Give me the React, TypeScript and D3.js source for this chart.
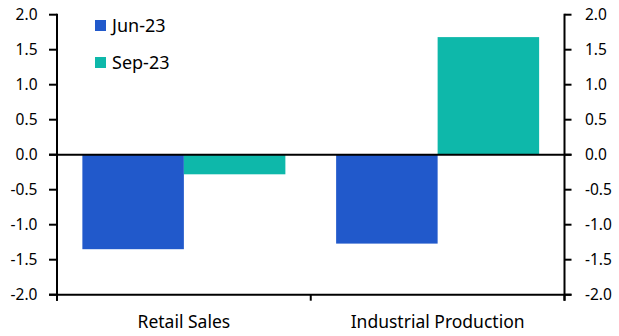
import React from "react";
import * as d3 from "d3";

const categories = ["Retail Sales", "Industrial Production"];
const seriesNames = ["Jun-23", "Sep-23"];
const jun23 = [-1.35, -1.27];
const sep23 = [-0.28, 1.68];
const yTicks = [2.0, 1.5, 1.0, 0.5, 0.0, -0.5, -1.0, -1.5, -2.0];
const colors = ["#2159cb", "#0eb8aa"];

const W = 619;
const H = 336;
const left = 57;
const right = 564.5;
const top = 14.7;
const bottom = 294.7;
const font = "'Noto Sans', sans-serif";

export default function App() {
  const x = d3.scaleBand<string>().domain(categories).range([left, right]).paddingInner(0.2).paddingOuter(0.1);
  const inner = d3.scaleBand<string>().domain(seriesNames).range([0, x.bandwidth()]);
  const y = d3.scaleLinear().domain([-2, 2]).range([bottom, top]);
  const series = [jun23, sep23];
  const fmt = (t: number) => d3.format(".1f")(t).replace("−", "-");
  return (
    <svg width={W} height={H} style={{ position: "absolute", left: 0, top: 0 }} fontFamily={font}>
      <rect width={W} height={H} fill="#fff" />
      {series.map((vals, si) =>
        categories.map((c, ci) => {
          const v = vals[ci];
          const x0 = (x(c) as number) + (inner(seriesNames[si]) as number);
          return (
            <rect key={`${si}-${ci}`} x={x0} width={inner.bandwidth()} y={y(Math.max(0, v))} height={Math.abs(y(v) - y(0))} fill={colors[si]} />
          );
        })
      )}
      {/* zero line */}
      <line x1={left - 8} x2={right + 7} y1={y(0)} y2={y(0)} stroke="#000" strokeWidth={2} />
      {/* left axis */}
      <line x1={left} x2={left} y1={y(2) - 1} y2={bottom + 6} stroke="#000" strokeWidth={2} />
      {yTicks.map((t) => (
        <g key={"l" + t}>
          <line x1={left - 8} x2={left} y1={y(t)} y2={y(t)} stroke="#000" strokeWidth={2} />
          <text x={37.5} y={y(t)} dy="0.35em" textAnchor="end" fontSize={15.5} fill="#000">{fmt(t)}</text>
        </g>
      ))}
      {/* right axis */}
      <line x1={right} x2={right} y1={y(2) - 1} y2={bottom + 6} stroke="#000" strokeWidth={2} />
      {yTicks.map((t) => (
        <g key={"r" + t}>
          <line x1={right} x2={right + 7} y1={y(t)} y2={y(t)} stroke="#000" strokeWidth={2} />
          <text x={585} y={y(t)} dy="0.35em" textAnchor="start" fontSize={15.5} fill="#000">{fmt(t)}</text>
        </g>
      ))}
      {/* bottom axis */}
      <line x1={left - 8} x2={right + 7} y1={bottom} y2={bottom} stroke="#000" strokeWidth={2} />
      {[left, (left + right) / 2, right].map((tx, i) => (
        <line key={"b" + i} x1={tx} x2={tx} y1={bottom} y2={bottom + 6} stroke="#000" strokeWidth={2} />
      ))}
      {categories.map((c) => (
        <text key={c} x={(x(c) as number) + x.bandwidth() / 2} y={328} textAnchor="middle" fontSize={17.5} fill="#000">{c}</text>
      ))}
      {/* legend */}
      {seriesNames.map((s, i) => (
        <g key={s} transform={`translate(95, ${20 + i * 37})`}>
          <rect width={11} height={11} fill={colors[i]} />
          <text x={17} y={5.5} dy="0.35em" fontSize={18} fill="#000">{s}</text>
        </g>
      ))}
    </svg>
  );
}
